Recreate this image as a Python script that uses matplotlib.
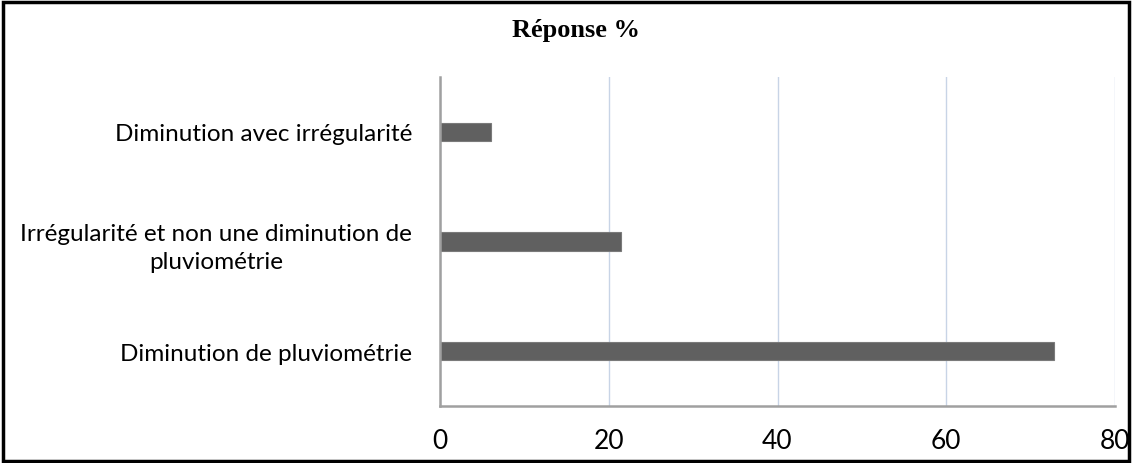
import matplotlib.pyplot as plt
from matplotlib.patches import Rectangle

categories = ["Diminution de pluviométrie",
              "Irrégularité et non une diminution de\npluviométrie",
              "Diminution avec irrégularité"]
values = [72.8, 21.4, 6.0]
x_ticks = [0, 20, 40, 60, 80]

plt.rcParams['font.family'] = ['Lato', 'DejaVu Sans']

fig = plt.figure(figsize=(11.32, 4.64), dpi=100)
ax = fig.add_axes([0.3887, 0.1228, 0.985 - 0.3887, 0.8319 - 0.1228])

ax.barh(range(len(categories)), values, height=0.165, color='#606060',
        edgecolor='#7a7a7a', linewidth=0.8, zorder=3)

ax.set_xlim(0, 80)
ax.set_ylim(-0.5, 2.5)
ax.set_xticks(x_ticks)
ax.set_yticks(range(len(categories)))
ax.set_yticklabels(categories, fontsize=17.5)
for lab in ax.get_yticklabels():
    lab.set_multialignment('center')
    lab.set_linespacing(1.45)
ax.tick_params(axis='x', labelsize=19, length=0, pad=16)
ax.tick_params(axis='y', length=0, pad=20)

ax.grid(axis='x', color='#c8d4e6', linewidth=1.0, zorder=0)
for side in ['top', 'right']:
    ax.spines[side].set_visible(False)
for side in ['left', 'bottom']:
    ax.spines[side].set_color('#a0a0a0')
    ax.spines[side].set_linewidth(1.8)
    ax.spines[side].set_zorder(4)

fig.text(0.509, 0.935, "Réponse %", ha='center', va='center',
         fontsize=19, fontweight='bold', family='Liberation Serif')

fig.patches.append(Rectangle((0.003, 0.004), 0.994, 0.99, transform=fig.transFigure,
                             fill=False, edgecolor='black', linewidth=2.5))

fig.savefig("out.png", dpi=100)
